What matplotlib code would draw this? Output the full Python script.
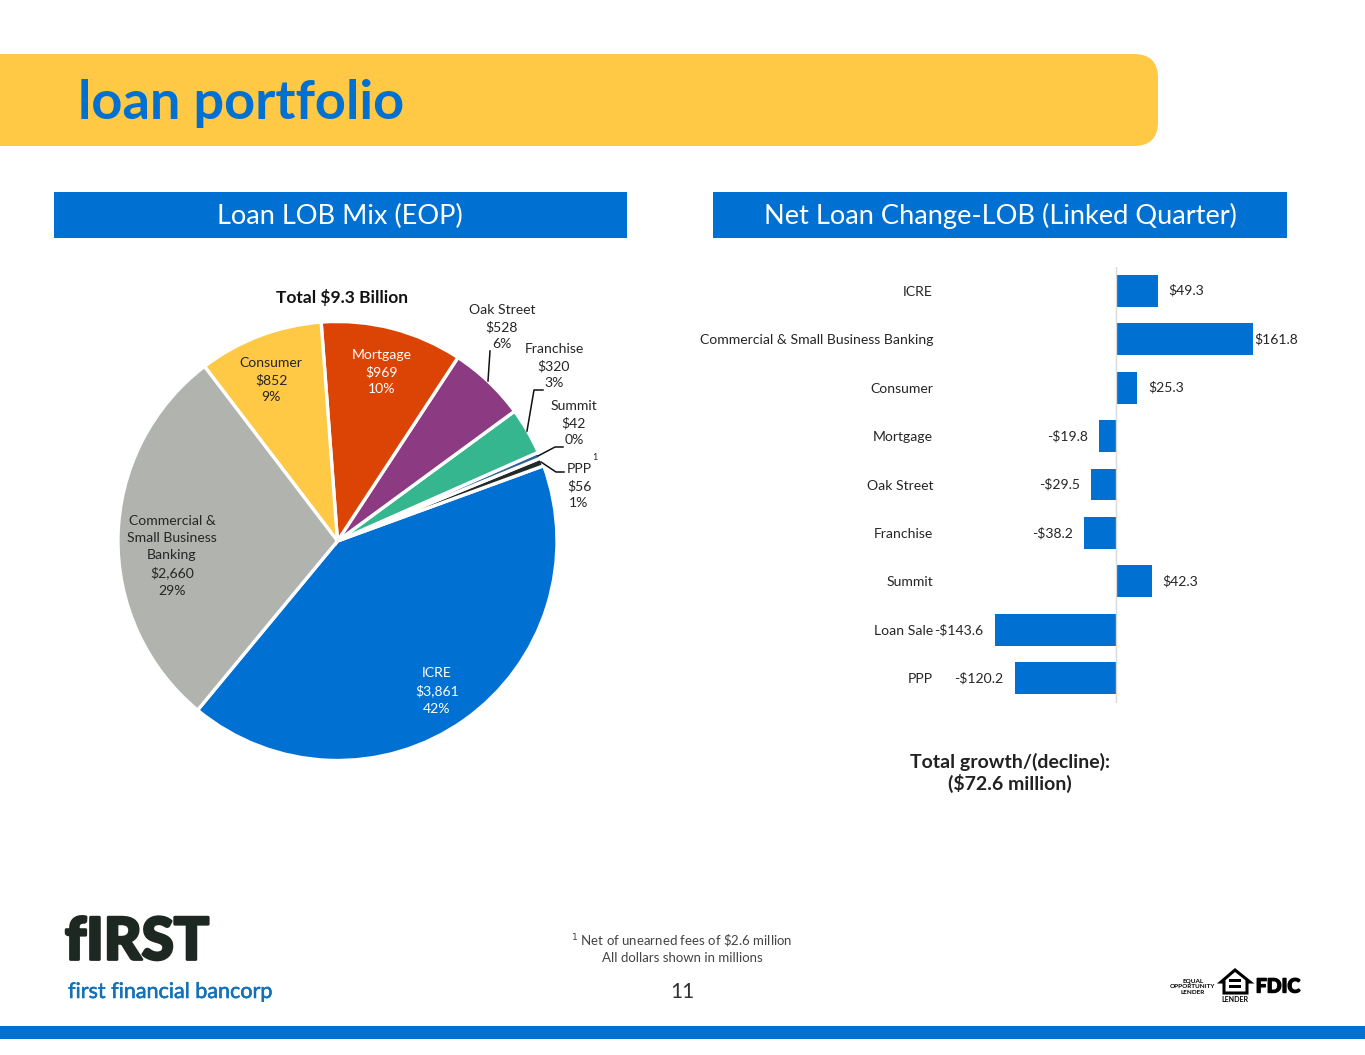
import matplotlib
matplotlib.use('Agg')
import matplotlib.pyplot as plt
import matplotlib.patheffects as pe
from matplotlib.patches import FancyBboxPatch, Rectangle, Polygon

W, H = 1365, 1055
BLUE = '#0070D2'
YELLOW = '#FFC845'
TEXT = '#262626'
plt.rcParams['font.family'] = ['Lato', 'DejaVu Sans']

# pie data
pie_names = ['ICRE', 'PPP', 'Summit', 'Franchise', 'Oak Street', 'Mortgage', 'Consumer', 'Commercial & Small Business Banking']
pie_values = [3861, 56, 42, 320, 528, 969, 852, 2660]
pie_colors = ['#0070D2', '#222B27', '#2F6096', '#36B68F', '#8C3A82', '#DC4405', '#FFC845', '#B1B3AF']

# bar data
bar_names = ['ICRE', 'Commercial & Small Business Banking', 'Consumer', 'Mortgage', 'Oak Street',
             'Franchise', 'Summit', 'Loan Sale', 'PPP']
bar_values = [49.3, 161.8, 25.3, -19.8, -29.5, -38.2, 42.3, -143.6, -120.2]
bar_labels = ['$49.3', '$161.8', '$25.3', '-$19.8', '-$29.5', '-$38.2', '$42.3', '-$143.6', '-$120.2']

fig = plt.figure(figsize=(W / 100, H / 100), dpi=100, facecolor='white')


def thick(w):
    return [pe.withStroke(linewidth=w, foreground='#1E2823')]


# page layer, in pixels of the slide
bg = fig.add_axes([0, 0, 1, 1])
bg.set_xlim(0, W)
bg.set_ylim(H, 0)
bg.axis('off')

bg.add_patch(FancyBboxPatch((-60, 54), 1218, 92, boxstyle='round,pad=0,rounding_size=24',
                            fc=YELLOW, ec='none'))
bg.text(78, 103, 'loan portfolio', color=BLUE, fontsize=39, fontweight='bold', va='center')

bg.add_patch(Rectangle((54, 192), 573, 46, fc=BLUE, ec='none'))
bg.add_patch(Rectangle((713, 192), 574, 46, fc=BLUE, ec='none'))
bg.text(340, 216, 'Loan LOB Mix (EOP)', color='white', fontsize=19.5, ha='center', va='center')
bg.text(1000, 216, 'Net Loan Change-LOB (Linked Quarter)', color='white', fontsize=19.6, ha='center', va='center')
bg.add_patch(Rectangle((0, 1026), W, 13, fc=BLUE, ec='none'))

# pie
cx, cy, r = 337.5, 541, 219.5
pad = 1.02
pax = fig.add_axes([(cx - r * pad) / W, 1 - (cy + r * pad) / H, 2 * r * pad / W, 2 * r * pad / H])
pax.pie(pie_values, colors=pie_colors, startangle=230.4, counterclock=True,
        wedgeprops={'edgecolor': 'white', 'linewidth': 2.4})
pax.set_xlim(-pad, pad)
pax.set_ylim(-pad, pad)

ov = fig.add_axes([0, 0, 1, 1])
ov.set_xlim(0, W)
ov.set_ylim(H, 0)
ov.axis('off')
ov.patch.set_alpha(0)


def plabel(x, y, s, color=TEXT, **kw):
    ov.text(x, y, s, ha='center', va='center', fontsize=10.1, color=color, linespacing=1.5, **kw)


ov.text(342, 297, 'Total $9.3 Billion', ha='center', va='center', fontsize=12.5, fontweight='bold', color='#111111')
plabel(437, 691, 'ICRE\n$3,861\n42%', color='white')
plabel(172, 556, 'Commercial &\nSmall Business\nBanking\n$2,660\n29%')
plabel(271, 380, 'Consumer\n$852\n9%')
plabel(382, 372, 'Mortgage\n$969\n10%', color='white')
plabel(502, 327, 'Oak Street\n$528\n6%')
plabel(554, 366, 'Franchise\n$320\n3%')
plabel(574, 423, 'Summit\n$42\n0%')
plabel(579, 486, 'PPP\n$56\n1%')
ov.text(595, 457, '1', ha='center', va='center', fontsize=6.5, color=TEXT)

# leader lines
ov.plot([488, 490], [381, 351], color='#111111', lw=1.1)
ov.plot([527, 534, 543], [431, 390, 390], color='#111111', lw=1.1)
ov.plot([538, 555, 563], [456, 447, 447], color='#111111', lw=1.1)
ov.plot([541, 556, 564], [462, 472, 472], color='#111111', lw=1.1)

# bars, zero at x=1116.5, 0.844 px per $ million
px = 0.844
left, right, top, bottom = 940, 1300, 266.5, 702.5
bax = fig.add_axes([left / W, 1 - bottom / H, (right - left) / W, (bottom - top) / H])
bax.patch.set_alpha(0)
pos = list(range(len(bar_names)))
bax.barh(pos, bar_values, height=0.66, color=BLUE)
bax.set_xlim((left + 0.5 - 1116.5) / px, (right + 0.5 - 1116.5) / px)
bax.set_ylim(len(bar_names) - 0.5, -0.5)
bax.axvline(0, color='#D9D9D9', lw=1)
for s in bax.spines.values():
    s.set_visible(False)
bax.set_xticks([])
bax.set_yticks(pos)
bax.set_yticklabels(bar_names, fontsize=10.05, color=TEXT)
bax.tick_params(axis='y', length=0, pad=5)
for p, v, lab in zip(pos, bar_values, bar_labels):
    off = 8 if v > 0 else -8
    if lab == '$161.8':
        off = 1
    bax.annotate(lab, (v, p), xytext=(off, 0), textcoords='offset points', va='center',
                 ha='left' if v > 0 else 'right', fontsize=10.1, color=TEXT)

bg.text(1010, 773, 'Total growth/(decline):\n($72.6 million)', ha='center', va='center',
        fontsize=14, fontweight='bold', color='#222222', linespacing=1.2)

# footer
bg.text(682, 948, '$^1$ Net of unearned fees of \\$2.6 million\nAll dollars shown in millions',
        ha='center', va='center', fontsize=9.5, color='#444444', linespacing=1.2)
bg.text(682, 992, '11', ha='center', va='center', fontsize=15, color='#333333')

# logo
bg.text(65, 943, 'fIRST', fontsize=42, fontweight='black', color='#1E2823', va='center', ha='left',
        path_effects=thick(2))
bg.text(68, 992, 'first financial bancorp', fontsize=15.5, color='#1271B8', va='center', ha='left',
        path_effects=[pe.withStroke(linewidth=0.4, foreground='#1271B8')])

# compliance marks
bg.text(1193, 987, 'EQUAL\nOPPORTUNITY\nLENDER', fontsize=4.6, fontweight='bold', color='black',
        ha='center', va='center', linespacing=1.2)
bg.add_patch(Polygon([(1221, 982), (1235, 970), (1250, 982), (1247, 982), (1247, 993), (1224, 993), (1224, 982)],
                     closed=True, fc='white', ec='black', lw=2.2))
bg.add_patch(Rectangle((1229, 979), 12, 3, fc='black', ec='none'))
bg.add_patch(Rectangle((1229, 985), 12, 3, fc='black', ec='none'))
bg.text(1235, 1000, 'LENDER', fontsize=5, fontweight='bold', color='black', ha='center', va='center')
bg.text(1278, 987, 'FDIC', fontsize=14, fontweight='black', color='black', ha='center', va='center',
        path_effects=[pe.withStroke(linewidth=1, foreground='black')])

fig.savefig('out.png', dpi=100)
